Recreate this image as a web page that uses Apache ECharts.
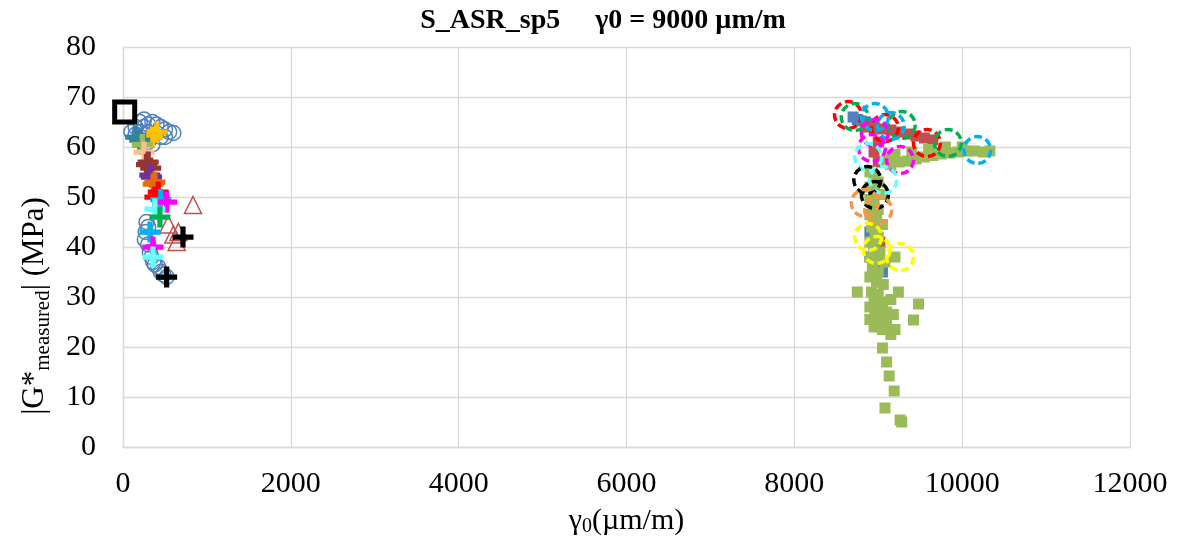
<!DOCTYPE html>
<html><head><meta charset="utf-8">
<script src="https://cdn.jsdelivr.net/npm/echarts@6/dist/echarts.min.js"></script>
<style>html,body{margin:0;padding:0;background:#fff}#c{width:1180px;height:537px}</style>
</head><body><div id="c"></div>
<script>
// ---- data ----
const titleText = 'S_ASR_sp5     γ0 = 9000 µm/m';
const xTicks = [0, 2000, 4000, 6000, 8000, 10000, 12000];
const yTicks = [0, 10, 20, 30, 40, 50, 60, 70, 80];

const blackSquare = [[20, 67]];
const blueCircles = [[100,63],[150,62.5],[200,63],[250,64],[300,64.5],[200,65],[250,65.5],[350,65],[400,64.5],[450,64],[500,63.5],[550,63],[600,62.8],[150,64],[300,63],[350,62.5],[400,62.8],[450,62],[200,61.5],[300,61],[350,60.5],[500,62],
  [280,45],[300,44],[270,43],[260,41.5],[300,40.5],[320,39],[340,38],[360,37],[380,36.5],[420,36],[450,35],[480,34.5],[520,34]];
const redTriangles = [[834,48.4],[540,44.5],[600,42.5],[660,43],[640,41]];
const crossOrange = [[405,63],[350,62]];
const crossTeal = [[200,61.4],[150,62]];
const crossOlive = [[230,60.5]];
const crossPeach = [[250,59]];
const crossBrown = [[300,57],[330,55.8],[280,56.5]];
const crossPurple = [[320,54.4],[340,54]];
const crossDkOrange = [[360,52.6],[380,53]];
const crossRed = [[380,50],[420,51]];
const crossCyan = [[450,49.5],[322,43]];
const crossMagenta = [[520,49],[357,40]];
const crossLtCyan = [[380,47.6],[357,38]];
const crossGreen = [[440,46]];
const crossBlack = [[715,42],[520,34]];

const blueSquares = [[8700,66],[8750,65.5],[8800,65.2],[8850,65],[8900,64.6],[8950,64.3],[8900,43],[8950,40],[8900,38],[9050,36],[9050,35]];
const redSquares = [[8850,64],[8950,63.8],[9050,63.6],[9150,63.4],[9250,63],[9350,62.6],[9450,62.2],[9550,61.8],[9650,61.4],[9000,61],[8950,59],[9000,57],[8980,45],[9020,41]];
const greenSquares = [
  [9150,56.5],[9250,57],[9350,57.2],[9450,57.6],[9550,58],[9650,58.3],[9750,58.6],[9850,58.8],[9950,59],[10050,59.2],[10150,59.2],[10250,59],[10330,59.2],[9600,59.5],[9800,60],[10000,60],[9400,59],[9200,58.5],[9100,57.5],
  [8900,55],[8950,54],[9000,53],[8900,52],[8950,51],[9050,50.5],[8900,49.5],[8950,48.5],[9000,47.5],[8900,46.5],[8980,45.5],[9050,44.5],[8920,44],[8960,43],[9000,42],[8900,41],[8950,40],[9020,39],[8900,38],[8960,37.5],[9080,37],[9200,38],[8930,36],[9000,35],[8900,34],[8980,33],[9060,32.5],[8750,31],[8920,31],[9000,30.5],[9240,31],[8950,29.5],[9050,29],[9150,29.5],[9480,28.6],[8900,28],[9000,27.5],[9100,27],[8960,26.5],[9050,26],[9180,26.5],[9420,25.4],[8900,25.5],[9000,25],[9100,24.5],[8950,24],[9050,23.5],[9200,23.5],[9150,22.5],[9050,19.8],[9100,17],[9130,14.2],[9190,11.2],[9080,7.8],[9260,5.4],[9280,5]];

const dashRed = [[8640,66.4],[9080,63.8],[9580,60.8]];
const dashGreen = [[8720,66],[9280,64.4],[9830,60.8]];
const dashBlue = [[8960,66],[9150,64.2],[10180,59.4]];
const dashMagenta = [[8960,62.8],[8925,59.8],[9260,57.4]];
const dashLtCyan = [[8880,58],[9060,53.4]];
const dashBlack = [[8870,53.4],[8960,50.4]];
const dashOrange = [[8840,48.8],[9000,47.4]];
const dashYellow = [[8880,42],[8980,39.4],[9260,38]];

// ---- chart ----
const FONT = '"Liberation Serif", "Times New Roman", serif';
const CROSS = 'path://M3,0H5V3H8V5H5V8H3V5H0V3H3Z';
function cross(data, color){ return {type:'scatter', data, symbol:CROSS, symbolSize:21, itemStyle:{color, opacity:1}, z:5}; }
function dashed(data, color){ return {type:'scatter', data, symbol:'circle', symbolSize:27, itemStyle:{color:'rgba(0,0,0,0)', borderColor:color, borderWidth:3.5, borderType:[8,4], opacity:1}, z:7}; }
function squares(data, color){ return {type:'scatter', data, symbol:'rect', symbolSize:11, itemStyle:{color, opacity:1}, z:6}; }

const chart = echarts.init(document.getElementById('c'));
chart.setOption({
  animation:false,
  title:{text:titleText, left:598, textAlign:'center', top:2, textStyle:{fontFamily:FONT, fontSize:28, fontWeight:'bold', color:'#000'}},
  grid:{left:123, right:50, top:47, bottom:90, outerBoundsMode:'none', containLabel:false},
  xAxis:{type:'value', min:0, max:12000, interval:2000,
    axisLine:{show:true, lineStyle:{color:'#D9D9D9', width:1.3}}, axisTick:{show:false},
    splitLine:{show:true, lineStyle:{color:'#D9D9D9', width:1.3}},
    axisLabel:{fontFamily:FONT, fontSize:30, color:'#000', margin:22, formatter:v=>String(v)},
    name:'{a|γ}{s|0}{a|(µm/m)}', nameLocation:'middle', nameGap:58,
    nameTextStyle:{rich:{a:{fontFamily:FONT, fontSize:30, color:'#000'}, s:{fontFamily:FONT, fontSize:20, color:'#000', padding:[12,0,0,0]}}}
  },
  yAxis:{type:'value', min:0, max:80, interval:10,
    axisLine:{show:true, lineStyle:{color:'#D9D9D9', width:1.3}}, axisTick:{show:false},
    splitLine:{show:true, lineStyle:{color:'#D9D9D9', width:1.3}},
    axisLabel:{fontFamily:FONT, fontSize:30, color:'#000', margin:27, formatter:v=>String(v)}
  },
  graphic:[{type:'text', x:35, y:306, rotation:Math.PI/2,
    style:{text:'{a||G*}{b|measured}{a|| (MPa)}', align:'center', verticalAlign:'middle',
      rich:{a:{fontFamily:FONT, fontSize:31, fill:'#000'}, b:{fontFamily:FONT, fontSize:21, fill:'#000', padding:[16,0,0,0]}}}}],
  series:[
    {type:'scatter', data:blueCircles, symbol:'circle', symbolSize:15, itemStyle:{color:'rgba(0,0,0,0)', borderColor:'#4F81BD', borderWidth:1.5, opacity:1}, z:3},
    {type:'scatter', data:redTriangles, symbol:'triangle', symbolSize:17, itemStyle:{color:'rgba(0,0,0,0)', borderColor:'#C0504D', borderWidth:1.5, opacity:1}, z:3},
    {type:'scatter', data:blackSquare, symbol:'rect', symbolSize:20, itemStyle:{color:'rgba(255,255,255,0)', borderColor:'#000', borderWidth:5, opacity:1}, z:4},
    cross(crossOrange,'#FFC000'), cross(crossTeal,'#31859C'), cross(crossOlive,'#9BBB59'), cross(crossPeach,'#FAC090'),
    cross(crossBrown,'#943634'), cross(crossPurple,'#7030A0'), cross(crossDkOrange,'#E46C0A'), cross(crossRed,'#FF0000'),
    cross(crossCyan,'#00B0F0'), cross(crossMagenta,'#FF00FF'), cross(crossLtCyan,'#66FFFF'), cross(crossGreen,'#00B050'),
    cross(crossBlack,'#000000'),
    squares(blueSquares,'#4F81BD'), squares(redSquares,'#C0504D'), squares(greenSquares,'#9BBB59'),
    dashed(dashRed,'#FF0000'), dashed(dashGreen,'#00B050'), dashed(dashBlue,'#00B0F0'), dashed(dashMagenta,'#FF00FF'),
    dashed(dashLtCyan,'#66FFFF'), dashed(dashBlack,'#000000'), dashed(dashOrange,'#F79646'), dashed(dashYellow,'#FFFF00')
  ]
});
</script></body></html>
